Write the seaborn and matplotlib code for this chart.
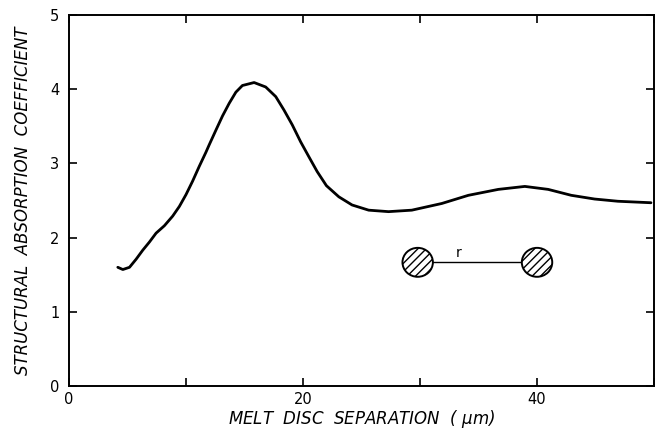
import matplotlib
matplotlib.use("Agg")
import matplotlib.pyplot as plt
from matplotlib.patches import Ellipse
import seaborn as sns
import pandas as pd

separation_um = [4.17, 4.60, 5.17, 5.74, 6.30, 6.87, 7.44, 8.15, 8.86, 9.43, 10.0,
                 10.56, 11.13, 11.70, 11.98, 12.56, 13.12, 13.69, 14.26, 14.82, 15.82,
                 16.81, 17.67, 18.37, 19.08, 19.80, 20.50, 21.21, 22.0, 23.06, 24.19,
                 25.61, 27.31, 29.30, 31.86, 34.13, 36.69, 38.96, 40.95, 42.93, 44.92,
                 46.91, 49.74]
coefficient = [1.60, 1.57, 1.60, 1.71, 1.83, 1.94, 2.06, 2.16, 2.29, 2.42, 2.58,
               2.76, 2.96, 3.15, 3.25, 3.45, 3.64, 3.81, 3.96, 4.05, 4.09,
               4.03, 3.90, 3.72, 3.52, 3.29, 3.09, 2.89, 2.70, 2.55, 2.44,
               2.37, 2.35, 2.37, 2.46, 2.57, 2.65, 2.69, 2.65, 2.57, 2.52,
               2.49, 2.47]
x_ticks = [0, 10, 20, 30, 40, 50]
x_tick_labels = ["0", "", "20", "", "40", ""]
y_ticks = [0, 1, 2, 3, 4, 5]
y_tick_labels = ["0", "1", "2", "3", "4", "5"]
x_label = "MELT  DISC  SEPARATION  ( $\\mu$m)"
y_label = "STRUCTURAL  ABSORPTION  COEFFICIENT"

sns.set_style("ticks")
plt.rcParams["font.family"] = ["DejaVu Sans"]
plt.rcParams["text.color"] = "black"
plt.rcParams["axes.labelcolor"] = "black"
plt.rcParams["xtick.color"] = "black"
plt.rcParams["ytick.color"] = "black"
plt.rcParams["mathtext.default"] = "it"

fig = plt.figure(figsize=(6.56, 4.29), dpi=100)
ax = fig.add_axes([0.1052, 0.1002, 0.997 - 0.1052, 0.965 - 0.1002])

df = pd.DataFrame({"x": separation_um, "y": coefficient})
sns.lineplot(data=df, x="x", y="y", ax=ax, color="black", linewidth=2.0)

ax.set_xlim(0, 50)
ax.set_ylim(0, 5)
ax.set_xticks(x_ticks)
ax.set_xticklabels(x_tick_labels, fontsize=10.5)
ax.set_yticks(y_ticks)
ax.set_yticklabels(y_tick_labels, fontsize=10.5)
ax.tick_params(direction="in", length=6, width=1.2, top=True, right=True,
               labeltop=False, labelright=False, color="black")
ax.tick_params(axis="x", pad=4)
ax.tick_params(axis="y", pad=7)
for s in ax.spines.values():
    s.set_visible(True)
    s.set_linewidth(1.4)
    s.set_color("black")

ax.set_xlabel(x_label, fontsize=12, fontstyle="italic", labelpad=1)
ax.set_ylabel(y_label, fontsize=12, fontstyle="italic", labelpad=13)

# inset sketch: two hatched discs separated by r
c1 = (29.8, 1.667)
c2 = (40.0, 1.667)
ax.plot([c1[0], c2[0]], [c1[1], c2[1]], color="black", lw=1.0)
for c in (c1, c2):
    e = Ellipse(c, width=2.6, height=0.39, facecolor="white", edgecolor="black",
                lw=1.4, hatch="////", zorder=3)
    ax.add_patch(e)
ax.text(33.3, 1.70, "r", fontsize=10, ha="center", va="bottom")

fig.savefig("out.png", dpi=100)
